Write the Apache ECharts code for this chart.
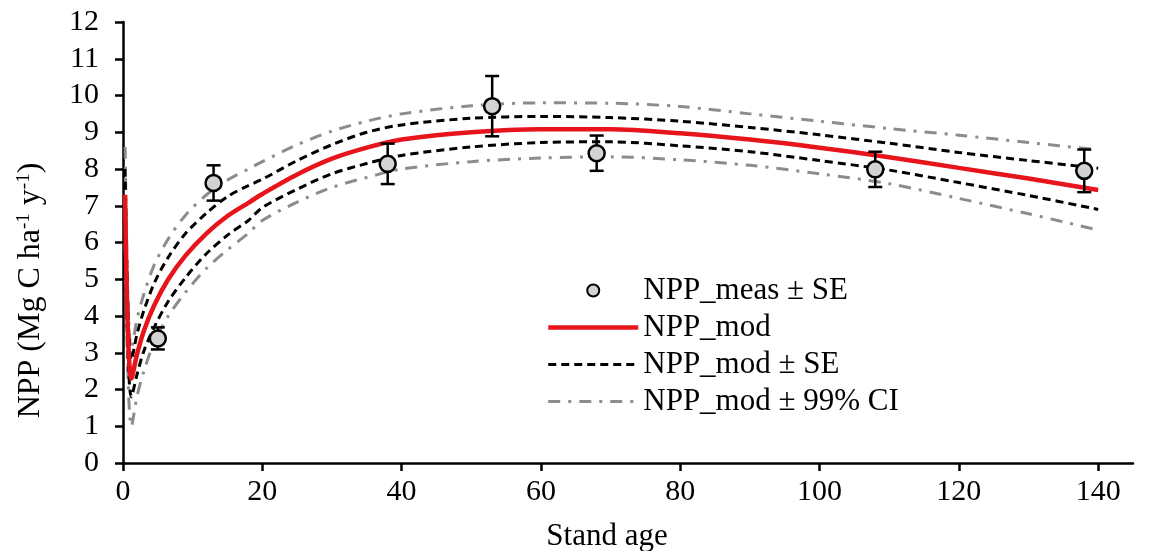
<!DOCTYPE html>
<html>
<head>
<meta charset="utf-8">
<script src="https://cdn.jsdelivr.net/npm/echarts@6/dist/echarts.min.js"></script>
<style>
  html, body { margin: 0; padding: 0; background: #fff; }
  #chart { width: 1161px; height: 551px; }
</style>
</head>
<body>
<div id="chart"></div>
<script>
// measured NPP with standard error
const measAge = [5, 13, 38, 53, 68, 108, 138]
const measNpp = [3.39, 7.62, 8.14, 9.71, 8.43, 7.99, 7.95]
const measSe = [0.3, 0.48, 0.55, 0.82, 0.48, 0.48, 0.58]

// modelled curve and bands
const modAge = [0.3, 0.7, 1.2, 2, 3, 4.5, 6.5, 9, 12, 15, 18, 20, 25, 30, 35, 40, 50, 60, 70, 80, 90, 100, 110, 120, 130, 140]
const modNpp = [7.3, 3.6, 2.3, 2.95, 3.6, 4.3, 5.0, 5.65, 6.25, 6.72, 7.08, 7.32, 7.85, 8.28, 8.58, 8.8, 9.0, 9.08, 9.08, 8.97, 8.8, 8.58, 8.32, 8.03, 7.74, 7.43]
const seUpper = [8.0, 4.2, 2.8, 3.5, 4.15, 4.9, 5.6, 6.25, 6.8, 7.25, 7.55, 7.72, 8.23, 8.66, 9.0, 9.2, 9.38, 9.43, 9.4, 9.3, 9.13, 8.93, 8.7, 8.45, 8.23, 8.02]
const seLower = [6.6, 3.0, 1.8, 2.4, 3.05, 3.7, 4.4, 5.05, 5.7, 6.2, 6.6, 6.95, 7.45, 7.87, 8.15, 8.37, 8.6, 8.72, 8.74, 8.63, 8.47, 8.23, 7.97, 7.63, 7.28, 6.9]
const ciUpper = [8.6, 4.6, 3.1, 3.9, 4.6, 5.4, 6.1, 6.75, 7.3, 7.7, 8.0, 8.2, 8.66, 9.03, 9.3, 9.5, 9.72, 9.8, 9.79, 9.7, 9.5, 9.3, 9.1, 8.92, 8.72, 8.52]
const ciLower = [6.0, 2.4, 1.0, 1.8, 2.5, 3.3, 4.0, 4.65, 5.3, 5.8, 6.25, 6.6, 7.1, 7.5, 7.77, 8.0, 8.2, 8.3, 8.33, 8.25, 8.1, 7.87, 7.6, 7.2, 6.78, 6.34]

const xTicks = [0, 20, 40, 60, 80, 100, 120, 140]

const font = 'Liberation Serif'
const pair = (xs, ys) => xs.map((x, i) => [x, ys[i]])

const chart = echarts.init(document.getElementById('chart'))

function lineSeries(name, values, color, width, dash) {
  return {
    name: name,
    type: 'line',
    data: pair(modAge, values),
    symbol: 'none',
    smooth: 0.3,
    lineStyle: { color: color, width: width, type: dash },
    itemStyle: { color: color },
    z: 2
  }
}

// line entries in the legend: no marker on the line
const noMarker = { opacity: 0 }

const option = {
  animation: false,
  grid: { left: 123, right: 28, top: 22, bottom: 88, outerBoundsMode: 'none' },
  legend: {
    orient: 'vertical',
    left: 541,
    top: 270,
    itemWidth: 90,
    itemHeight: 12,
    itemGap: 6,
    textStyle: { fontFamily: font, fontSize: 31, color: '#000', lineHeight: 30 },
    data: [
      { name: 'NPP_meas ± SE' },
      { name: 'NPP_mod', itemStyle: noMarker, lineStyle: { width: 4.5 } },
      { name: 'NPP_mod ± SE', itemStyle: noMarker, lineStyle: { width: 3 } },
      { name: 'NPP_mod ± 99% CI', itemStyle: noMarker, lineStyle: { width: 3 } }
    ]
  },
  xAxis: {
    type: 'value',
    min: 0,
    max: 145,
    interval: 20,
    name: 'Stand age',
    nameLocation: 'middle',
    nameGap: 58,
    nameTextStyle: { fontFamily: font, fontSize: 31, color: '#000', padding: [0, 42, 0, 0] },
    axisLine: { lineStyle: { color: '#000', width: 2.5 } },
    axisTick: { customValues: xTicks, length: 8, lineStyle: { color: '#000', width: 2.5 } },
    axisLabel: { customValues: xTicks, fontFamily: font, fontSize: 30, color: '#000', margin: 14 },
    splitLine: { show: false }
  },
  yAxis: {
    type: 'value',
    min: 0,
    max: 12,
    interval: 1,
    name: 'NPP (Mg C ha{s|-1} y{s|-1})',
    nameLocation: 'middle',
    nameGap: 76,
    nameTextStyle: {
      fontFamily: font,
      fontSize: 32,
      color: '#000',
      padding: [0, 96, 0, 0],
      rich: {
        s: { fontFamily: font, fontSize: 19, color: '#000', verticalAlign: 'top', lineHeight: 30 }
      }
    },
    axisLine: { show: true, lineStyle: { color: '#000', width: 2.5 } },
    axisTick: { show: true, length: 8, lineStyle: { color: '#000', width: 2.5 } },
    axisLabel: { fontFamily: font, fontSize: 30, color: '#000', margin: 24 },
    splitLine: { show: false }
  },
  series: [
    lineSeries('NPP_mod ± 99% CI', ciUpper, '#8c8c8c', 3, [12, 8, 3, 8]),
    lineSeries('NPP_mod ± 99% CI', ciLower, '#8c8c8c', 3, [12, 8, 3, 8]),
    lineSeries('NPP_mod ± SE', seUpper, '#000', 3, [8, 5]),
    lineSeries('NPP_mod ± SE', seLower, '#000', 3, [8, 5]),
    lineSeries('NPP_mod', modNpp, '#e8141c', 4.5, 'solid'),
    {
      name: 'errorbars',
      type: 'custom',
      data: measAge.map((a, i) => [a, measNpp[i] - measSe[i], measNpp[i] + measSe[i]]),
      encode: { x: 0, y: [1, 2] },
      z: 5,
      renderItem(params, api) {
        const lo = api.coord([api.value(0), api.value(1)])
        const hi = api.coord([api.value(0), api.value(2)])
        const half = 7
        const style = { stroke: '#000', lineWidth: 2.5 }
        return {
          type: 'group',
          children: [
            { type: 'line', shape: { x1: hi[0], y1: hi[1], x2: lo[0], y2: lo[1] }, style: style },
            { type: 'line', shape: { x1: hi[0] - half, y1: hi[1], x2: hi[0] + half, y2: hi[1] }, style: style },
            { type: 'line', shape: { x1: lo[0] - half, y1: lo[1], x2: lo[0] + half, y2: lo[1] }, style: style }
          ]
        }
      }
    },
    {
      name: 'NPP_meas ± SE',
      type: 'scatter',
      data: pair(measAge, measNpp),
      symbol: 'circle',
      symbolSize: 16,
      itemStyle: { color: '#d3d3d3', borderColor: '#000', borderWidth: 2.5, opacity: 1 },
      z: 6
    }
  ]
}

chart.setOption(option)
</script>
</body>
</html>
